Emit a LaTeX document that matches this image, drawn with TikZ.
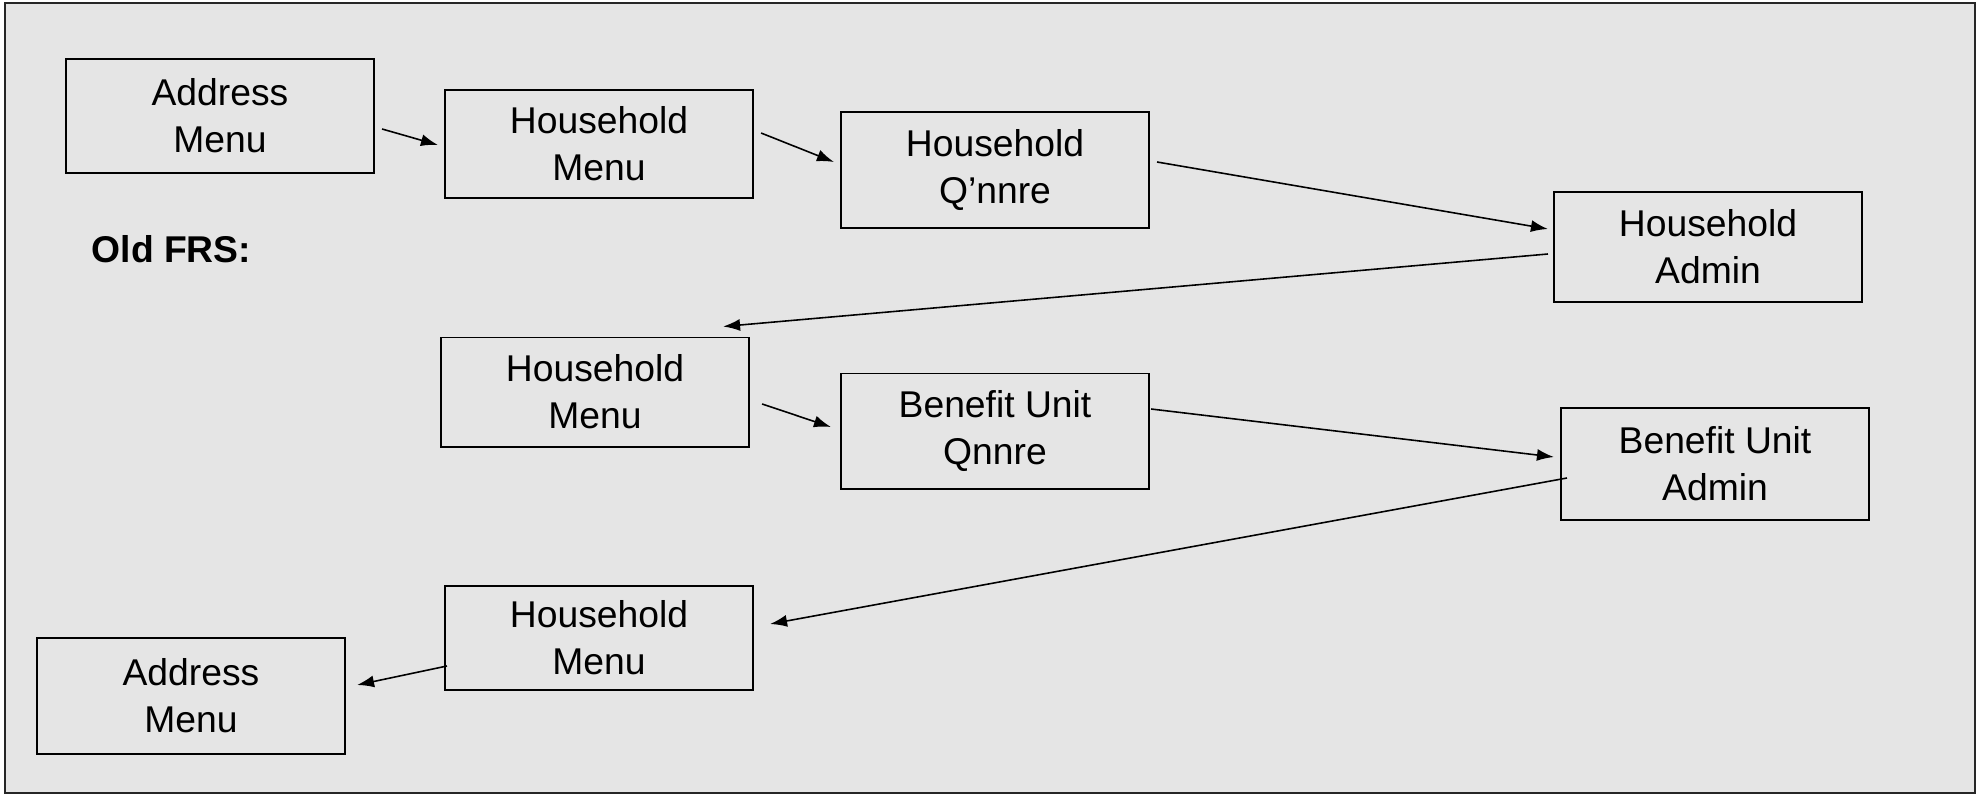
\documentclass[tikz,border=0pt]{standalone}
\usepackage{fontspec}
\setmainfont{Liberation Sans}
\usepackage{tikz}
\usetikzlibrary{arrows.meta}
\definecolor{panelgray}{HTML}{E5E5E5}
\tikzset{
  menubox/.style={draw=black, line width=0.55pt, minimum width=3.08cm, minimum height=1.1cm,
    inner sep=0pt, align=center, font=\fontsize{10.6}{13.3}\selectfont},
  flow/.style={line width=0.45pt, -{Latex[length=1.7mm,width=1.2mm]}}
}

\begin{document}
\begin{tikzpicture}[x=0.01cm, y=-0.01cm]
\useasboundingbox (0,0) rectangle (1980,794);
\draw[fill=panelgray, draw=black!85, line width=0.6pt] (5,3) rectangle (1975,793);

\node (lbl) [anchor=west, inner sep=0pt, font=\fontsize{10.6}{13.3}\selectfont\bfseries] at (91,249) {Old FRS:};

\node (am1) [menubox, minimum height=1.14cm] at (220,116) {Address\\Menu};
\node (hm1) [menubox, minimum height=1.08cm] at (599,144) {Household\\Menu};
\node (hq) [menubox, minimum height=1.16cm] at (995,170) {Household\\Q’nnre};
\node (ha) [menubox] at (1708,247) {Household\\Admin};

\node (hm2) [menubox, minimum height=1.09cm] at (595,392) {Household\\Menu};
\node (bq) [menubox, minimum height=1.15cm] at (995,431) {Benefit Unit\\Qnnre};
\node (ba) [menubox, minimum height=1.12cm] at (1715,464) {Benefit Unit\\Admin};

\node (hm3) [menubox, minimum height=1.04cm] at (599,638) {Household\\Menu};
\node (am2) [menubox, minimum height=1.16cm] at (191,696) {Address\\Menu};

\draw[flow] ([shift={(7,13)}]am1.east) -- ([shift={(-6,1)}]hm1.west);
\draw[flow] ([shift={(7,-11)}]hm1.east) -- ([shift={(-6,-8)}]hq.west);
\draw[flow] ([shift={(7,-8)}]hq.east) -- ([shift={(-5,-18)}]ha.west);
\draw[flow] ([shift={(-5,7)}]ha.west) -- ([shift={(-27,-10)}]hm2.north east);
\draw[flow] ([shift={(12,12)}]hm2.east) -- ([shift={(-9,-4)}]bq.west);
\draw[flow] ([shift={(1,-22)}]bq.east) -- ([shift={(-6,-7)}]ba.west);
\draw[flow] ([shift={(7,14)}]ba.west) -- ([shift={(16,-14)}]hm3.east);
\draw[flow] ([shift={(3,28)}]hm3.west) -- ([shift={(11,-11)}]am2.east);

\end{tikzpicture}
\end{document}
